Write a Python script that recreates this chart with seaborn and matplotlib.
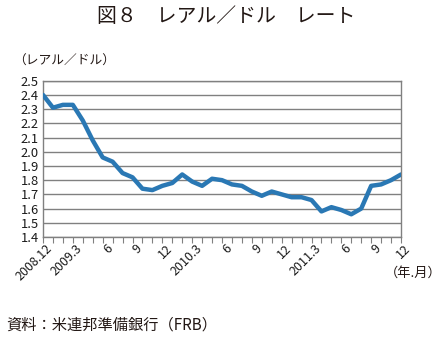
import matplotlib
matplotlib.use("Agg")
import matplotlib.pyplot as plt
import seaborn as sns
import pandas as pd
import numpy as np

# Monthly BRL/USD rate, 2008.12 - 2011.12
months = list(range(37))
rates = [2.40, 2.31, 2.33, 2.33, 2.22, 2.08, 1.96, 1.93, 1.85, 1.82,
         1.74, 1.73, 1.76, 1.78, 1.84, 1.79, 1.76, 1.81, 1.80, 1.77,
         1.76, 1.72, 1.69, 1.72, 1.70, 1.68, 1.68, 1.66, 1.58, 1.61,
         1.59, 1.56, 1.60, 1.76, 1.77, 1.80, 1.84]
tick_pos = [0, 3, 6, 9, 12, 15, 18, 21, 24, 27, 30, 33, 36]
tick_labels = ["2008.12", "2009.3", "6", "9", "12", "2010.3", "6", "9", "12",
               "2011.3", "6", "9", "12"]
y_ticks = [1.4, 1.5, 1.6, 1.7, 1.8, 1.9, 2.0, 2.1, 2.2, 2.3, 2.4, 2.5]

sns.set_theme(style="white")
plt.rcParams["font.family"] = ["Noto Sans CJK JP", "DejaVu Sans"]

df = pd.DataFrame({"month": months, "rate": rates})

fig = plt.figure(figsize=(4.47, 3.38), dpi=100)
ax = fig.add_axes([43 / 447, 1 - 237 / 338, 358 / 447, 156.3 / 338])

sns.lineplot(data=df, x="month", y="rate", ax=ax, color="#2a78b4",
             linewidth=3.2, zorder=3)

ax.set_xlim(0, 36)
ax.set_ylim(1.4, 2.5)
ax.set_yticks(y_ticks)
ax.set_yticklabels([f"{v:.1f}" for v in y_ticks], fontsize=9.3)
ax.yaxis.grid(True, color="#808080", linewidth=1.0)
ax.xaxis.grid(False)
ax.set_xticks(months, minor=False)
ax.set_xticklabels(["" for _ in months])
ax.tick_params(axis="x", which="major", direction="out", length=4,
               width=0.8, color="#808080", bottom=True)
ax.tick_params(axis="y", length=0, pad=3)
for pos, lab in zip(tick_pos, tick_labels):
    ax.text(pos + 0.3, 1.4 - 0.035, lab, rotation=45, ha="right", va="top",
            rotation_mode="anchor", fontsize=9, transform=ax.transData,
            color="#1a1a1a")
ax.set_xlabel("")
ax.set_ylabel("")
for side in ["left", "bottom", "right", "top"]:
    ax.spines[side].set_visible(True)
    ax.spines[side].set_color("#808080")
    ax.spines[side].set_linewidth(1.0)
for lab in ax.get_yticklabels():
    lab.set_color("#1a1a1a")

fig.text(226 / 447, 1 - 17 / 338, "図８　レアル／ドル　レート", ha="center",
         va="center", fontsize=14.3, color="#231815")
fig.text(13 / 447, 1 - 61 / 338, "（レアル／ドル）", ha="left", va="center",
         fontsize=9.2, color="#231815")
fig.text(442 / 447, 1 - 273 / 338, "（年.月）", ha="right", va="center",
         fontsize=9.5, color="#231815")
fig.text(6 / 447, 1 - 325 / 338, "資料：米連邦準備銀行（FRB）", ha="left",
         va="center", fontsize=11, color="#231815")

fig.savefig("out.png", dpi=100)
